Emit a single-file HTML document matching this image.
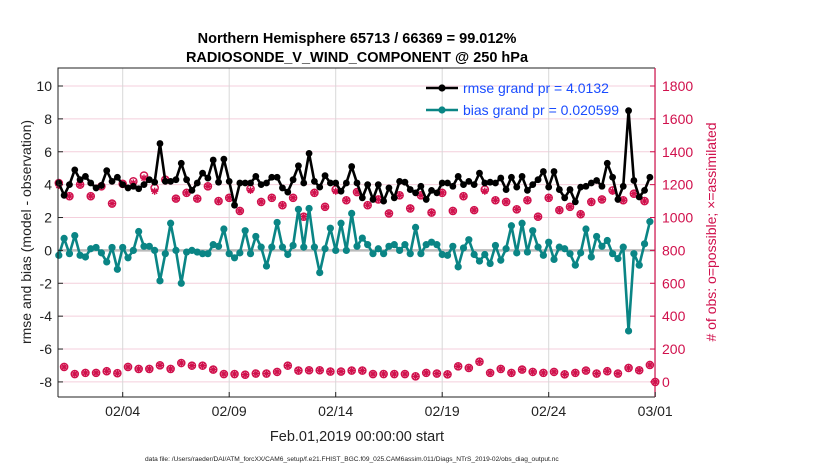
<!DOCTYPE html>
<html><head><meta charset="utf-8"><style>
html,body{margin:0;padding:0;background:#fff;}
svg{display:block;font-family:"Liberation Sans",Arial,sans-serif;}
</style></head><body>
<svg id="chart" width="830" height="470" viewBox="0 0 830 470" xmlns="http://www.w3.org/2000/svg">
<text x="357" y="43" text-anchor="middle" font-size="14.5" font-weight="bold">Northern Hemisphere 65713 / 66369 = 99.012%</text>
<text x="357" y="62" text-anchor="middle" font-size="14.5" font-weight="bold">RADIOSONDE_V_WIND_COMPONENT @ 250 hPa</text>
<g id="grid"></g>
<g id="marks"></g>
<g id="axes"></g>
<text transform="translate(31,232) rotate(-90)" text-anchor="middle" font-size="14" fill="#222">rmse and bias (model - observation)</text>
<text transform="translate(716,232) rotate(-90)" text-anchor="middle" font-size="14" fill="#d0104c"># of obs: o=possible; ×=assimilated</text>
<text x="357" y="441" text-anchor="middle" font-size="14.5" fill="#222">Feb.01,2019 00:00:00 start</text>
<text x="145" y="461" font-size="6.6" fill="#222">data file: /Users/raeder/DAI/ATM_forcXX/CAM6_setup/f.e21.FHIST_BGC.f09_025.CAM6assim.011/Diags_NTrS_2019-02/obs_diag_output.nc</text>
<g id="legend"></g>
</svg>
<script>
const rmseVals=[4.1,3.35,4.0,4.9,4.3,4.5,4.1,3.8,3.95,4.85,4.2,4.45,4.0,3.8,3.9,3.75,4.0,4.3,4.15,6.5,4.2,4.2,4.3,5.3,4.3,3.65,4.1,4.7,4.4,5.5,4.15,5.55,4.2,2.75,4.1,4.1,4.1,4.5,4.0,4.1,4.45,4.45,3.8,3.55,4.3,5.15,4.1,5.9,4.2,3.85,4.55,4.1,4.1,3.6,4.1,5.1,4.1,3.2,4.0,3.1,4.0,3.0,3.8,3.2,4.2,4.15,3.7,3.5,3.9,3.1,3.65,3.5,4.1,4.1,3.9,4.5,4.0,4.2,4.0,4.7,4.1,4.15,4.1,4.4,3.7,4.45,3.85,4.5,3.65,4.0,4.3,4.8,3.85,4.8,3.7,3.2,3.7,2.95,3.85,3.9,4.1,4.25,3.9,5.3,4.45,3.1,3.9,8.5,4.25,3.25,3.65,4.45];
const biasVals=[-0.3,0.73,-0.2,0.9,-0.3,-0.4,0.1,0.18,-0.15,-0.7,0.18,-1.15,0.18,-0.45,0,1.15,0.25,0.25,0,-1.85,-0.2,1.65,0,-2.0,-0.1,0,-0.1,-0.2,-0.2,0.35,0.25,1.3,-0.2,-0.45,-0.15,1.2,-0.2,0.85,0.2,-0.95,0.2,1.7,0.2,-0.25,0.3,2.5,0.2,2.55,0.2,-1.35,0.1,1.35,0,1.65,0,2.25,0.25,0.75,0.35,-0.2,0.1,-0.2,0.25,0.35,0,0.35,-0.2,1.4,-0.2,0.35,0.5,0.35,-0.25,-0.3,0.25,-1.0,0.15,0.65,-0.25,-0.65,-0.25,-0.8,0.3,-0.6,0.1,1.5,-0.15,1.65,-0.1,1.2,0.2,-0.3,0.5,-0.55,0.2,0.1,-0.2,-0.9,-0.15,1.3,-0.4,0.85,0.25,0.6,-0.2,-0.5,0.2,-4.9,-0.2,-0.9,0.4,1.75];
const obsPossible=[1210,1130,1200,1130,1190,1085,1205,1220,1255,1180,1230,1115,1150,1115,1190,1100,1120,1040,1175,1095,1120,1075,1120,1005,1150,1065,1170,1105,1155,1075,1110,1025,1135,1055,1135,1030,1150,1040,1130,1045,1170,1105,1095,1050,1105,1005,1120,1045,1065,1020,1095,1110,1165,1105,1145,1100];
const obsAssim=[1195,1130,1200,1130,1190,1085,1205,1210,1240,1160,1230,1115,1150,1115,1190,1100,1120,1040,1165,1095,1120,1075,1120,1005,1150,1065,1160,1105,1155,1075,1110,1025,1135,1055,1135,1030,1150,1040,1130,1045,1160,1105,1095,1050,1105,1005,1120,1045,1065,1020,1095,1110,1160,1105,1145,1100];
const obsLow=[91,48,55,55,65,53,91,79,79,101,79,115,99,99,75,48,48,44,51,51,61,99,69,71,71,63,63,69,69,48,48,48,48,34,55,51,46,95,85,123,55,79,55,75,61,55,61,46,55,69,51,65,51,85,71,103,0];
const xTickLabels=["02/04","02/09","02/14","02/19","02/24","03/01"];
const xTickDays=[3,8,13,18,23,28];
const yTickLeft=[-8,-6,-4,-2,0,2,4,6,8,10];
const yTickRight=[0,200,400,600,800,1000,1200,1400,1600,1800];

const NS="http://www.w3.org/2000/svg";
const X0=58.8,DAY=21.3,PL=58,PR=655,PT=68,PB=397;
function xs(d){return X0+d*DAY;}
function yl(v){return 250.4-v*16.44;}
function yr(n){return yl(n/100-8);}
function mk(tag,attrs,parent){const e=document.createElementNS(NS,tag);for(const k in attrs)e.setAttribute(k,attrs[k]);parent.appendChild(e);return e;}
const grid=document.getElementById('grid'),marks=document.getElementById('marks'),axes=document.getElementById('axes'),legend=document.getElementById('legend');
const PINK="#d0104c",TEAL="#0a8585";

yTickLeft.forEach(v=>{const l=mk('line',{x1:PL,x2:PR,y1:yl(v),y2:yl(v),stroke:'#f4cfdc','stroke-width':1},grid);

});
xTickDays.forEach(d=>{const l=mk('line',{x1:xs(d),x2:xs(d),y1:PT,y2:PB,stroke:'#d8d8d8','stroke-width':1},grid);

});
const zl=mk('line',{x1:PL,x2:PR,y1:yl(0),y2:yl(0),stroke:'#bbbbbb','stroke-width':2.5},grid);



function obsMarker(x,y,useO,useStar,name){
  const g=mk('g',{},marks);
  
  
  if(useO)mk('circle',{cx:x,cy:y,r:3.6,fill:'none',stroke:PINK,'stroke-width':1.4},g);
  if(useStar){const r=3.6;[[0,1],[1,0],[0.7,0.7],[0.7,-0.7]].forEach(([a,b])=>mk('line',{x1:x-a*r,y1:y-b*r,x2:x+a*r,y2:y+b*r,stroke:PINK,'stroke-width':1.4},g));}
}
obsPossible.forEach((n,k)=>obsMarker(xs(k*0.5),yr(n),true,false,'obs-possible-point'));
obsAssim.forEach((n,k)=>obsMarker(xs(k*0.5),yr(n),false,true,'obs-assimilated-point'));
obsLow.forEach((n,k)=>{const d=k<56?0.25+k*0.5:28;obsMarker(xs(d),yr(n),true,true,'obs-count-point');});

function series(vals,color,r,name){
  const pts=vals.map((v,i)=>xs(i*0.25).toFixed(2)+','+yl(v).toFixed(2)).join(' ');
  const pl=mk('polyline',{points:pts,fill:'none',stroke:color,'stroke-width':2.6,'stroke-linejoin':'round'},marks);
  
  
  vals.forEach((v,i)=>{const c=mk('circle',{cx:xs(i*0.25),cy:yl(v),r:r,fill:color},marks);
  
  });
}
series(biasVals,TEAL,3.6,'bias');
series(rmseVals,'#000',3.4,'rmse');

const fr=mk('path',{d:`M${PL},${PB}V${PT}H${PR}`,fill:'none',stroke:'#222','stroke-width':1},axes);


const bx=mk('line',{x1:PL,x2:PR,y1:PB,y2:PB,stroke:'#222','stroke-width':1},axes);


const ra=mk('line',{x1:PR,x2:PR,y1:PT,y2:PB,stroke:PINK,'stroke-width':1.2},axes);


yTickLeft.forEach(v=>{mk('line',{x1:PL,x2:PL+5,y1:yl(v),y2:yl(v),stroke:'#222'},axes);
 const t=mk('text',{x:PL-6,y:yl(v)+5,'text-anchor':'end','font-size':14,fill:'#222'},axes);t.textContent=v;
 
 });
yTickRight.forEach(n=>{mk('line',{x1:PR-5,x2:PR,y1:yr(n),y2:yr(n),stroke:PINK},axes);
 const t=mk('text',{x:PR+7,y:yr(n)+5,'font-size':14,fill:PINK},axes);t.textContent=n;
 
 });
xTickDays.forEach((d,i)=>{mk('line',{x1:xs(d),x2:xs(d),y1:PB,y2:PB-5,stroke:'#222'},axes);
 const t=mk('text',{x:xs(d),y:PB+19,'text-anchor':'middle','font-size':14,fill:'#222'},axes);t.textContent=xTickLabels[i];
 
 });

[[88,'#000','rmse grand pr = 4.0132','legend-entry-rmse'],[110,TEAL,'bias grand pr = 0.020599','legend-entry-bias']].forEach(([y,c,txt,nm])=>{
 const g=mk('g',{},legend);
 
 
 mk('line',{x1:426,x2:458,y1:y,y2:y,stroke:c,'stroke-width':2.6},g);
 mk('circle',{cx:442,cy:y,r:3.6,fill:c},g);
 const t=mk('text',{x:463,y:y+5,'font-size':14,fill:'#1a4cff'},g);t.textContent=txt;
});
</script>
</body></html>
